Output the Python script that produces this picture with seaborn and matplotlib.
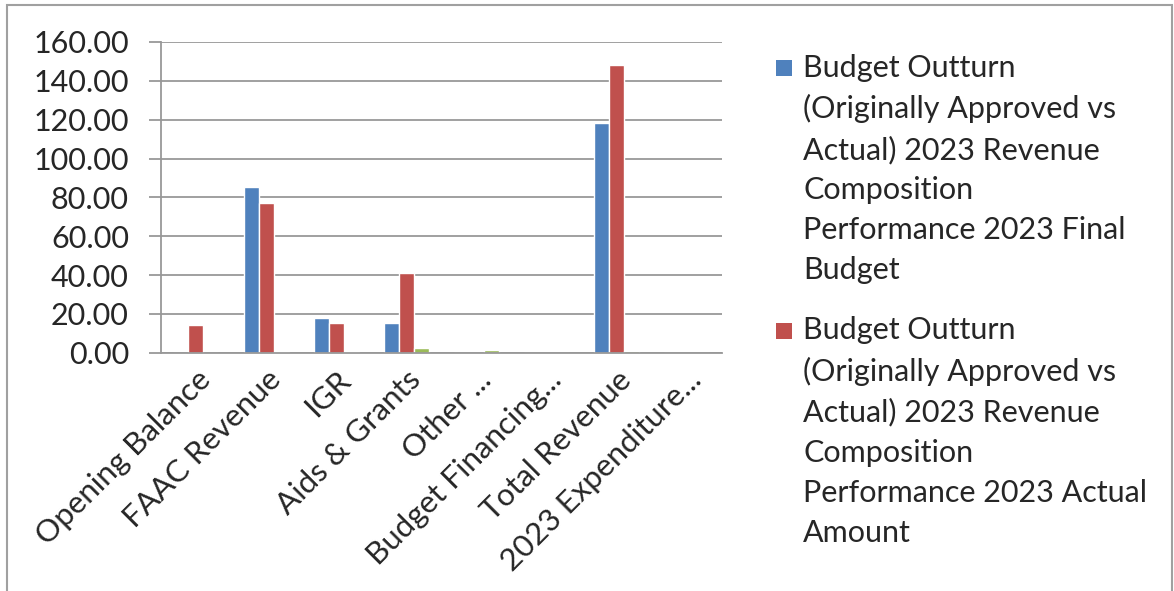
import pandas as pd
import numpy as np
import matplotlib.pyplot as plt
import seaborn as sns
from matplotlib.patches import Rectangle

categories = ["Opening Balance", "FAAC Revenue", "IGR", "Aids & Grants",
              "Other ...", "Budget Financing...", "Total Revenue", "2023 Expenditure..."]
final_budget = [0.0, 85.2, 18.1, 15.3, 0.0, 0.0, 118.5, 0.0]
actual_amount = [14.4, 77.0, 15.3, 41.0, 0.0, 0.0, 148.0, 0.0]
third_series = [0.0, 0.4, 0.3, 2.5, 1.5, 0.0, 0.8, 0.0]

label_final = ("Budget Outturn\n(Originally Approved vs\nActual) 2023 Revenue\n"
               "Composition\nPerformance 2023 Final\nBudget")
label_actual = ("Budget Outturn\n(Originally Approved vs\nActual) 2023 Revenue\n"
                "Composition\nPerformance 2023 Actual\nAmount")
yticks = [0, 20, 40, 60, 80, 100, 120, 140, 160]

colors = ["#4F81BD", "#C0504D", "#9BBB59"]

df = pd.DataFrame({
    "category": categories * 3,
    "value": final_budget + actual_amount + third_series,
    "series": ["final"] * 8 + ["actual"] * 8 + ["other"] * 8,
})

sns.set_style("white")
plt.rcParams["font.family"] = ["Lato", "DejaVu Sans"]

fig = plt.figure(figsize=(11.74, 5.91), dpi=100)
ax = fig.add_axes([0.137, 0.403, 0.478, 0.526])

sns.barplot(data=df, x="category", y="value", hue="series", palette=colors,
            width=0.64, saturation=1, ax=ax, legend=False, errorbar=None)

ax.set_xlim(-0.5, 7.5)
ax.set_ylim(0, 160)
ax.set_yticks(yticks)
ax.set_yticklabels([f"{v:.2f}" for v in yticks], fontsize=22)
ax.yaxis.grid(True, color="#989898", linewidth=1.3)
ax.set_axisbelow(True)
ax.set_xlabel("")
ax.set_ylabel("")

for s in ["top", "right"]:
    ax.spines[s].set_visible(False)
for s in ["left", "bottom"]:
    ax.spines[s].set_color("#989898")
    ax.spines[s].set_linewidth(1.3)

ax.set_xticks(np.arange(8))
ax.set_xticklabels(categories, rotation=45, ha="right", rotation_mode="anchor", fontsize=22.5)
ax.set_xticks(np.arange(-0.5, 8, 1), minor=True)
ax.tick_params(axis="x", which="major", length=0, pad=9)
ax.tick_params(axis="x", which="minor", length=7, color="#989898", width=1.3, direction="out")
ax.tick_params(axis="y", length=9, color="#989898", width=1.3, direction="out", left=True, pad=14)

# legend drawn by hand so the swatch sits at the first text line
for lab, col, ytop in [(label_final, colors[0], 0.909), (label_actual, colors[1], 0.465)]:
    fig.patches.append(Rectangle((0.661, ytop - 0.038), 0.0135, 0.027, transform=fig.transFigure,
                                 facecolor=col, edgecolor="none"))
    fig.text(0.684, ytop, lab, fontsize=22, va="top", ha="left", linespacing=1.52)

fig.patches.append(Rectangle((0.006, -0.01), 0.992, 1.002, transform=fig.transFigure,
                             facecolor="none", edgecolor="#a0a0a0", linewidth=1.5))

fig.savefig("out.png", dpi=100)
